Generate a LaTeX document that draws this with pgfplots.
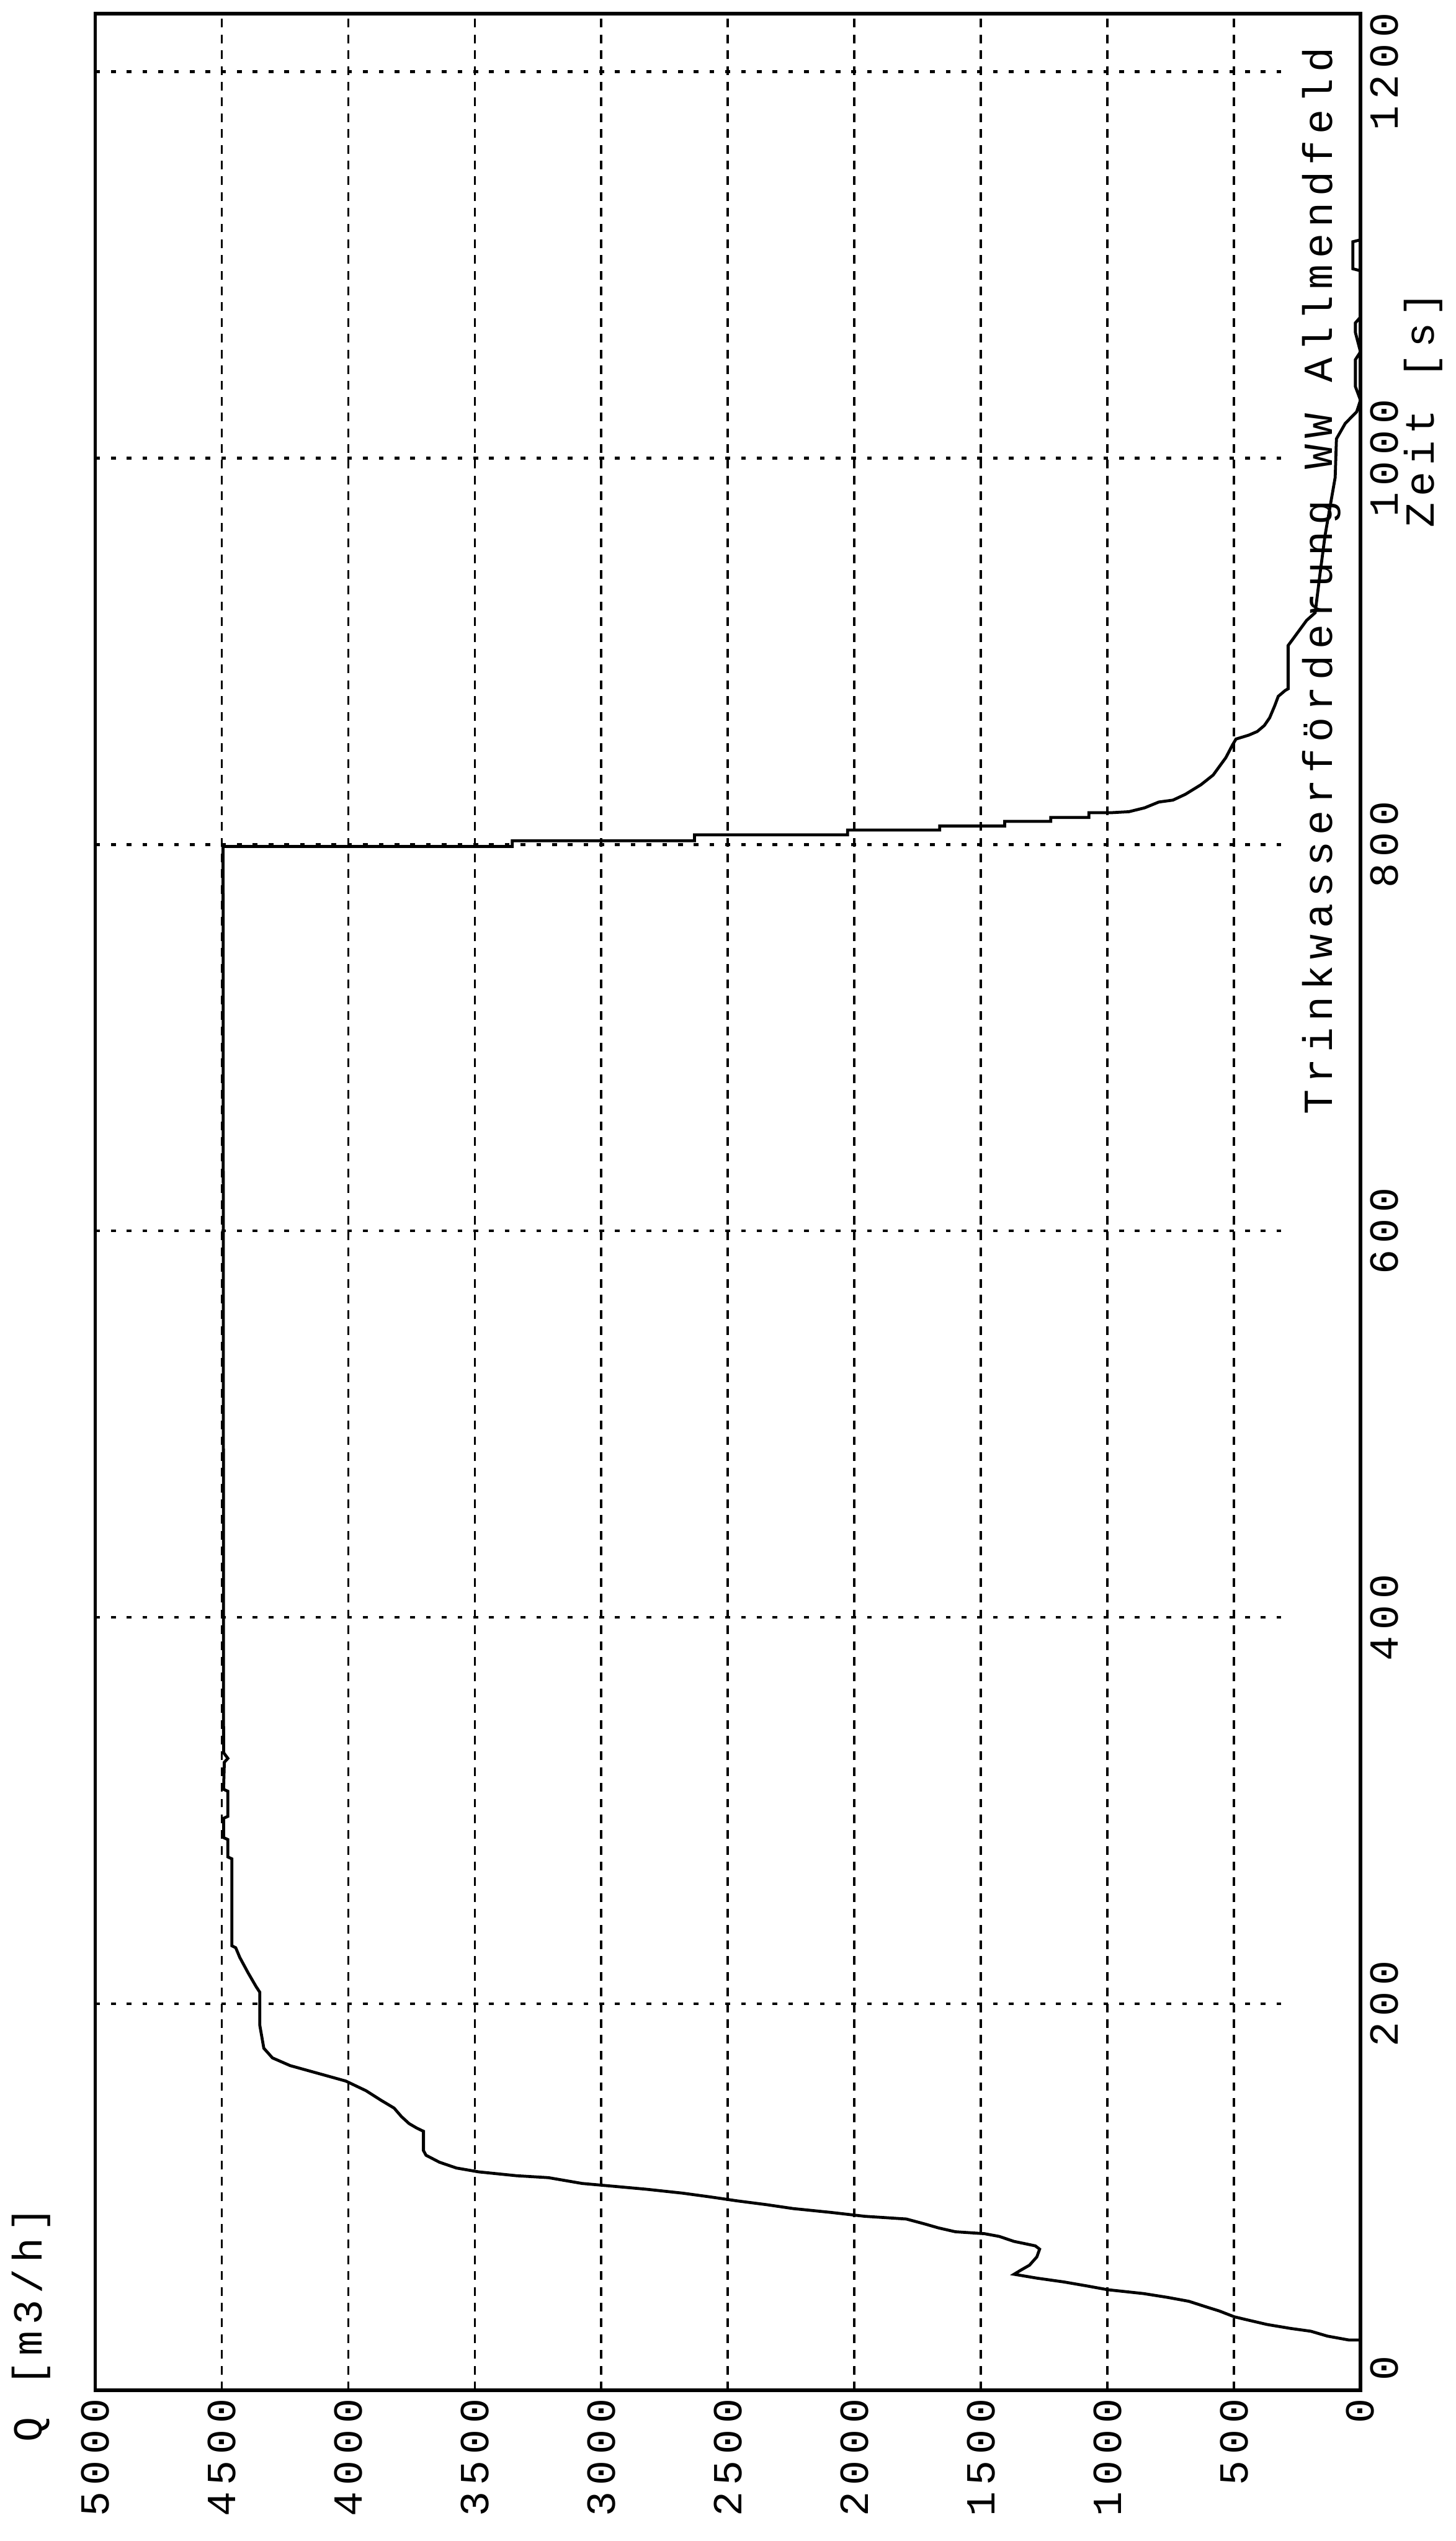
\documentclass[border=0pt]{standalone}
\usepackage{fontspec}
\setmonofont[LetterSpace=15]{Liberation Mono}
\usepackage{pgfplots}
\usepackage{pgfplotstable}
\pgfplotsset{compat=1.18}
\newcommand{\plotfont}{\ttfamily\fontsize{10.5}{10.5}\selectfont}

\pgfplotstableread{
t Q
26 0
26 47
28 131
30.5 196
32 278
34 369
36.5 451
38 499
41 558
43 607
46 678
48 761
50 857
52 999
54 1083
56 1171
58 1279
60 1369
62 1344
64.7 1308
69 1279
73 1268
74.7 1285
75.7 1321
77 1369
79.6 1428
81 1486
82 1601
84 1668
86 1721
88.6 1795
90 1959
92 2092
94 2242
96 2346
98 2464
100 2568
102 2680
104 2822
105.5 2948
107 3076
110 3209
111 3335
113 3485
115 3573
118 3640
121.6 3693
124 3703
134 3703
135.7 3730
138 3760
141.6 3790
146 3819
150 3870
155 3930
160 4010
164 4120
168 4230
172 4300
177 4334
189 4350
206 4350
209 4365
216 4396
224 4429
229 4445
230 4460
275 4460
276 4476
285 4476
286 4493
296 4493
297 4476
310 4476
311 4493
325 4490
327 4476
330 4493
799 4495
799 3352
802 3352
802 2632
805 2632
805 2027
807.5 2027
807.5 1663
809.6 1663
809.6 1406
812 1406
812 1224
814 1224
814 1073
816.5 1073
816.5 983
817 915
819 853
822 797
823 741
826 692
831 630
836 582
845 532
851.5 506
854.6 492
856.6 442
858.5 408
861.6 380
865.6 359
871.8 339
876.7 325
879.8 297
880.6 286
903 286
906 269
911 241
916 213
920 179
940 160
960 140
975 120
990 100
1010 95
1018 60
1024 15
1030 0
1037 20
1051 20
1055 0
1065 20
1070 20
1073 0
1097 0
1098 30
1112 30
1113 0
}\curvedata

\begin{document}
\begin{tikzpicture}
\useasboundingbox (0,0) rectangle (369.6pt,645.3pt);
\begin{axis}[
  at={(184.85pt,340.05pt)}, anchor=center,
  scale only axis, width=321.3pt, height=603.5pt,
  xmin=0, xmax=5000, ymin=0, ymax=1230,
  x dir=reverse,
  xtick={0,500,1000,1500,2000,2500,3000,3500,4000,4500,5000},
  xticklabels={0,500,1000,1500,2000,2500,3000,3500,4000,4500,5000},
  ytick={200,400,600,800,1000,1200},
  yticklabels={200,400,600,800,1000,1200},
  extra y ticks={0}, extra y tick labels={0},
  extra y tick style={yticklabel style={anchor=north west}},
  yticklabel pos=right,
  major tick length=0pt,
  /pgf/number format/assume math mode=true,
  xmajorgrids,
  x grid style={black, line width=0.6pt, dash pattern=on 2.2pt off 1.8pt},
  axis line style={black, line width=0.9pt},
  ticklabel style={font=\plotfont},
  xticklabel style={rotate=90, anchor=east, inner sep=2pt},
  yticklabel style={rotate=90, anchor=north, inner sep=2.3pt},
  clip=false,
]
\pgfplotsinvokeforeach{200,400,600,800,1000,1200}{
  \draw[black, line width=0.7pt, dash pattern=on 1.2pt off 2.8pt] (axis cs:5000,#1) -- (axis cs:280,#1);
}
\addplot[black, line width=0.75pt, mark=none] table[x=Q, y=t] {\curvedata};
\node[rotate=90, anchor=east, inner sep=0pt, font=\plotfont] at (axis cs:154,1213) {Trinkwasserförderung WW Allmendfeld};
\node[rotate=90, anchor=center, inner sep=0pt, font=\plotfont] at (axis cs:-249,1025) {Zeit [s]};
\node[rotate=90, anchor=center, inner sep=0pt, font=\plotfont] at (axis cs:5254,34) {Q [m3/h]};
\end{axis}
\end{tikzpicture}
\end{document}
